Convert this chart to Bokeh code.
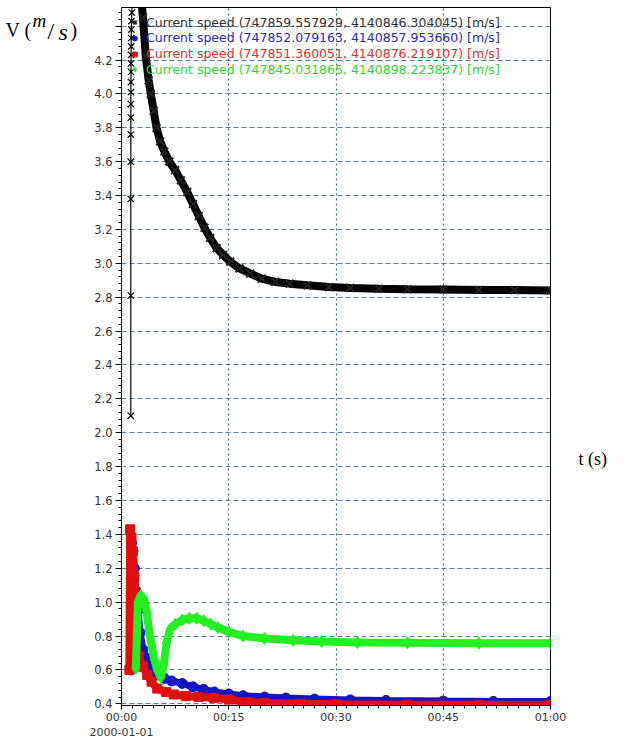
from bokeh.plotting import figure
from bokeh.layouts import row
from bokeh.models import Legend, LegendItem, Label, FixedTicker, NumeralTickFormatter, Range1d
from bokeh.embed import file_html
from bokeh.resources import INLINE

# ---- data (time in minutes, speed in m/s) ----
black_rise_t = [1.30, 1.30, 1.30, 1.30, 1.31, 1.31, 1.31, 1.32, 1.32, 1.33, 1.33, 1.34, 1.35, 1.36, 1.38, 1.40, 1.45, 1.50, 1.60]
black_rise_v = [2.10, 2.81, 3.38, 3.60, 3.76, 3.86, 3.94, 4.01, 4.07, 4.13, 4.18, 4.23, 4.28, 4.33, 4.38, 4.43, 4.48, 4.55, 4.65]

black_t = [1.60, 2.0, 2.5, 3.0, 3.4, 3.8, 4.1, 4.5, 4.9, 5.4, 6.0, 6.7, 7.5, 8.3, 9.2, 10.0, 10.8, 11.6, 12.4, 13.3,
           14.2, 15.2, 16.5, 18.0, 19.6, 21.5, 23.5, 26.0, 29.0, 32.0, 36.0, 40.0, 45.0, 50.0, 55.0, 60.0]
black_v = [4.65, 4.75, 4.70, 4.45, 4.22, 4.08, 4.00, 3.90, 3.80, 3.72, 3.66, 3.60, 3.55, 3.49, 3.42, 3.35, 3.28, 3.21, 3.15, 3.09,
           3.05, 3.01, 2.97, 2.94, 2.91, 2.89, 2.88, 2.87, 2.86, 2.855, 2.85, 2.847, 2.845, 2.843, 2.842, 2.84]

blue_t = [1.30, 1.40, 1.60, 1.80, 2.00, 2.30, 2.60, 3.00, 3.50, 4.00, 5.00, 6.00, 7.00, 8.50, 10.0, 11.5, 13.0, 15.0,
          17.0, 20.0, 23.0, 27.0, 32.0, 37.0, 45.0, 52.0, 60.0]
blue_v = [0.60, 1.35, 1.30, 1.20, 1.07, 0.95, 0.82, 0.72, 0.67, 0.62, 0.57, 0.55, 0.535, 0.52, 0.50, 0.485, 0.47, 0.458,
          0.448, 0.44, 0.434, 0.428, 0.423, 0.42, 0.416, 0.414, 0.413]

red_t = [1.10, 1.20, 1.40, 1.60, 1.80, 2.00, 2.10, 2.20, 2.40, 3.00, 3.60, 4.20, 5.00, 6.20, 7.30, 9.00, 10.8, 12.9, 15.0,
         17.7, 20.0, 25.0, 30.0, 40.0, 50.0, 60.0]
red_v = [0.60, 1.43, 1.38, 1.30, 1.15, 0.95, 0.70, 0.62, 0.68, 0.62, 0.57, 0.53, 0.49, 0.47, 0.455, 0.445, 0.44, 0.435, 0.425,
         0.41, 0.405, 0.40, 0.397, 0.395, 0.394, 0.394]

green_t = [2.00, 2.30, 2.70, 3.10, 3.50, 3.90, 4.30, 4.60, 5.00, 5.50, 5.90, 6.30, 6.80, 7.50, 8.50, 9.50, 10.5, 11.5,
           12.5, 13.5, 15.0, 17.0, 20.0, 24.0, 28.0, 33.0, 40.0, 50.0, 60.0]
green_v = [0.61, 1.00, 1.04, 1.02, 0.95, 0.82, 0.72, 0.66, 0.60, 0.555, 0.63, 0.76, 0.84, 0.87, 0.895, 0.905, 0.905, 0.89,
           0.87, 0.85, 0.825, 0.80, 0.785, 0.775, 0.768, 0.762, 0.76, 0.758, 0.757]

legend_labels = [
    "Current speed (747859.557929, 4140846.304045) [m/s]",
    "Current speed (747852.079163, 4140857.953660) [m/s]",
    "Current speed (747851.360051, 4140876.219107) [m/s]",
    "Current speed (747845.031865, 4140898.223837) [m/s]",
]
x_tick_values = [0, 15, 30, 45, 60]
x_tick_labels = ["00:00\n2000-01-01", "00:15", "00:30", "00:45", "01:00"]
y_tick_values = [0.4, 0.6, 0.8, 1.0, 1.2, 1.4, 1.6, 1.8, 2.0, 2.2, 2.4, 2.6, 2.8, 3.0, 3.2, 3.4, 3.6, 3.8, 4.0, 4.2, 4.4]

FONT = "DejaVu Sans"
SERIF = "Liberation Serif"
H = 742
LEFT_W, RIGHT_W = 80, 61
MAIN_W = 636 - LEFT_W - RIGHT_W

# ---- main figure ----
p = figure(width=MAIN_W, height=H, output_backend="svg", toolbar_location=None,
           x_range=Range1d(0, 60), y_range=Range1d(0.39, 4.51),
           min_border_left=121 - LEFT_W, min_border_right=MAIN_W - (550 - LEFT_W),
           min_border_top=7, min_border_bottom=30)
p.background_fill_color = "white"
p.border_fill_color = "white"
p.outline_line_color = "black"
p.outline_line_width = 1

p.xaxis.ticker = FixedTicker(ticks=x_tick_values, minor_ticks=[i * 1.5 for i in range(41)])
p.xaxis.major_label_overrides = {v: l for v, l in zip(x_tick_values, x_tick_labels)}
p.yaxis.ticker = FixedTicker(ticks=y_tick_values, minor_ticks=[round(0.4 + i * 0.04, 2) for i in range(104)])
p.yaxis.formatter = NumeralTickFormatter(format="0.0")
p.yaxis.major_label_overrides = {4.4: ""}

for ax in (p.xaxis[0], p.yaxis[0]):
    ax.axis_line_color = "black"
    ax.major_tick_line_color = "black"
    ax.minor_tick_line_color = "black"
    ax.major_tick_in = 0
    ax.minor_tick_in = 0
    ax.major_label_text_font = FONT
    ax.major_label_text_color = "#333333"

p.yaxis.major_tick_out = 6
p.yaxis.minor_tick_out = 3
p.yaxis.major_label_standoff = 3
p.yaxis.major_label_text_font_size = "11.5px"
p.xaxis.major_tick_out = 4
p.xaxis.minor_tick_out = 3
p.xaxis.major_label_standoff = 1
p.xaxis.major_label_text_font_size = "11px"

p.xgrid.grid_line_color = "#3d6a8c"
p.xgrid.grid_line_dash = "2 3"
p.xgrid.grid_line_width = 1.2
p.ygrid.grid_line_color = "#55809e"
p.ygrid.grid_line_dash = "5 3"
p.ygrid.grid_line_width = 1.2

# ---- series ----
BLACK, BLUE, RED, GREEN = "#000000", "#1414c4", "#e01010", "#22f022"

p.line(black_rise_t, black_rise_v, color=BLACK, line_width=1.2)
p.scatter(black_rise_t, black_rise_v, marker="x", size=9, line_color=BLACK, line_width=1.2)
p.line(black_t, black_v, color=BLACK, line_width=8)
r_black = p.scatter(black_t, black_v, marker="x", size=11, line_color="#222222", line_width=2)

p.line(blue_t, blue_v, color=BLUE, line_width=7)
r_blue = p.scatter(blue_t, blue_v, marker="circle", size=10, fill_color=BLUE, line_color=BLUE)

p.line(red_t, red_v, color=RED, line_width=8)
r_red = p.scatter(red_t, red_v, marker="square", size=9, fill_color=RED, line_color=RED)

p.line(green_t, green_v, color=GREEN, line_width=8)
r_green = p.scatter(green_t, green_v, marker="diamond", size=12, fill_color=GREEN, line_color=GREEN)

# ---- legends (one per series, coloured text) ----
text_colors = ["#333333", "#2b2bb8", "#d43434", "#36d436"]
for i, (r, txt, col) in enumerate(zip([r_black, r_blue, r_red, r_green], legend_labels, text_colors)):
    lg = Legend(items=[LegendItem(label=txt, renderers=[r])], location=(6, 675.5 - 15.8 * i))
    lg.label_text_font = FONT
    lg.label_text_font_size = "12.5px"
    lg.label_text_color = col
    lg.background_fill_alpha = 0
    lg.border_line_alpha = 0
    lg.padding = 0
    lg.margin = 0
    lg.spacing = 0
    lg.glyph_width = 15
    lg.glyph_height = 12
    lg.label_standoff = 4
    lg.label_height = 14
    p.add_layout(lg)

# ---- side panels holding the axis titles ----
def side_fig(width):
    f = figure(width=width, height=H, output_backend="svg", toolbar_location=None,
               x_range=Range1d(0, 1), y_range=Range1d(0, 1),
               min_border=0, min_border_left=0, min_border_right=0, min_border_top=0, min_border_bottom=0)
    f.axis.visible = False
    f.grid.visible = False
    f.outline_line_color = None
    f.background_fill_color = "white"
    f.border_fill_color = "white"
    return f

left = side_fig(LEFT_W)
right = side_fig(RIGHT_W)

def lab(f, text, x, y, size, style="normal"):
    f.add_layout(Label(x=x, y=y, x_units="canvas", y_units="canvas", text=text,
                       text_font=SERIF, text_font_size=size, text_font_style=style,
                       text_color="black", text_baseline="alphabetic"))

lab(left, "V (", 5, 29, "20px")
lab(left, "m", 32, 20, "19px", "italic")
lab(left, "/", 47, 30, "24px")
lab(left, "s", 58, 31, "24px", "italic")
lab(left, ")", 70, 29, "20px")
lab(right, "t (s)", 578 - (LEFT_W + MAIN_W), 458, "18px")

layout = row(left, p, right, spacing=0)
open("out.html", "w").write(file_html(layout, INLINE))
